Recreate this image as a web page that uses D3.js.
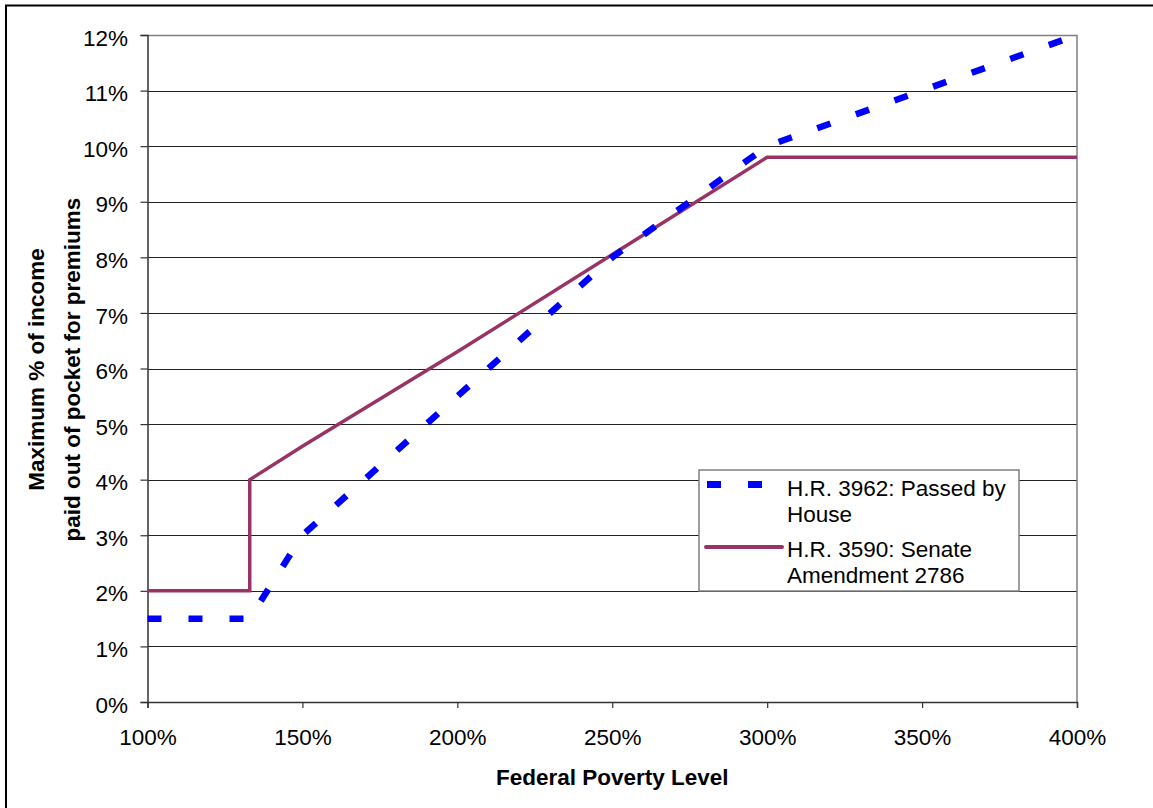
<!DOCTYPE html>
<html>
<head>
<meta charset="utf-8">
<script src="https://cdn.jsdelivr.net/npm/d3@7"></script>
<style>
  body { margin: 0; background: #fff; }
  svg { display: block; font-family: Arial, "Liberation Sans", sans-serif; }
</style>
</head>
<body>
<div id="chart"></div>
<script>
const width = 1153, height = 808;

// Federal poverty level (%), max % of income
const houseFpl = [100, 133, 150, 200, 250, 300, 350, 400];
const houseVal = [1.5, 1.5, 3, 5.5, 8, 10, 11, 12];
const senateFpl = [100, 133, 133, 150, 200, 250, 300, 400];
const senateVal = [2, 2, 4, 4.6, 6.3, 8.05, 9.8, 9.8];

const xTicks = [100, 150, 200, 250, 300, 350, 400];
const yTicks = [0, 1, 2, 3, 4, 5, 6, 7, 8, 9, 10, 11, 12];

const seriesNames = ['H.R. 3962: Passed by House', 'H.R. 3590: Senate Amendment 2786'];
const seriesLines = [['H.R. 3962: Passed by', 'House'], ['H.R. 3590: Senate', 'Amendment 2786']];

const plot = {left: 147.5, right: 1077, top: 35, bottom: 702};
const fontSize = 22.5;

const svg = d3.select('#chart')
    .append('svg')
    .attr('width', width)
    .attr('height', height);

// outer frame (only top and left edges show)
svg.append('path')
    .attr('d', `M6,${height + 5}V5.5H${width + 5}`)
    .attr('fill', 'none')
    .attr('stroke', '#000')
    .attr('stroke-width', 2);

const x = d3.scaleLinear().domain([100, 400]).range([plot.left, plot.right]);
const y = d3.scaleLinear().domain([0, 12]).range([plot.bottom, plot.top]);

// gridlines
svg.append('g')
    .selectAll('line')
    .data(yTicks.filter(d => d > 0 && d < 12))
    .enter().append('line')
    .attr('x1', plot.left).attr('x2', plot.right)
    .attr('y1', d => Math.round(y(d)) + 0.5).attr('y2', d => Math.round(y(d)) + 0.5)
    .attr('stroke', '#222')
    .attr('stroke-width', 1);

// plot border top/right
svg.append('path')
    .attr('d', `M${plot.left},${plot.top + 0.5}H${plot.right}V${plot.bottom}`)
    .attr('fill', 'none')
    .attr('stroke', '#808080')
    .attr('stroke-width', 1.5);

// axes
const xAxis = svg.append('g')
    .attr('transform', `translate(0,${plot.bottom})`)
    .call(d3.axisBottom(x).tickValues(xTicks).tickSize(6).tickPadding(21).tickFormat(d => d + '%'));
const yAxis = svg.append('g')
    .attr('transform', `translate(${plot.left},0)`)
    .call(d3.axisLeft(y).tickValues(yTicks).tickSize(7).tickPadding(12.5).tickFormat(d => d + '%'));

[xAxis, yAxis].forEach(g => {
    g.select('.domain').attr('stroke', '#333').attr('stroke-width', 1.5);
    g.selectAll('.tick line').attr('stroke', '#333').attr('stroke-width', 1.2);
    g.selectAll('.tick text')
        .attr('font-size', fontSize)
        .attr('font-family', 'Arial, "Liberation Sans", sans-serif')
        .attr('fill', '#000');
});
yAxis.selectAll('.tick text').attr('dy', '0.45em');

// axis titles
svg.append('text')
    .attr('x', x(250))
    .attr('y', 785)
    .attr('text-anchor', 'middle')
    .attr('font-size', fontSize)
    .attr('font-weight', 'bold')
    .text('Federal Poverty Level');

const yTitle = svg.append('text')
    .attr('transform', `translate(0,${(plot.top + plot.bottom) / 2 + 1}) rotate(-90)`)
    .attr('text-anchor', 'middle')
    .attr('font-size', fontSize)
    .attr('font-weight', 'bold');
yTitle.append('tspan').attr('x', 0).attr('y', 43.5).text('Maximum % of income');
yTitle.append('tspan').attr('x', 0).attr('y', 79.5).text('paid out of pocket for premiums');

// series
const line = d3.line().x(d => x(d[0])).y(d => y(d[1]));

svg.append('path')
    .datum(senateFpl.map((f, i) => [f, senateVal[i]]))
    .attr('d', line)
    .attr('fill', 'none')
    .attr('stroke', '#993366')
    .attr('stroke-width', 3.5);

svg.append('path')
    .datum(houseFpl.map((f, i) => [f, houseVal[i]]))
    .attr('d', line)
    .attr('fill', 'none')
    .attr('stroke', '#0000ff')
    .attr('stroke-width', 6.5)
    .attr('stroke-dasharray', '14,27');

// legend
const legend = svg.append('g').attr('transform', 'translate(699,470)');
legend.append('rect')
    .attr('width', 320).attr('height', 121)
    .attr('fill', '#fff')
    .attr('stroke', '#808080')
    .attr('stroke-width', 1.5);

legend.append('line')
    .attr('x1', 8).attr('x2', 78).attr('y1', 14.5).attr('y2', 14.5)
    .attr('stroke', '#0000ff').attr('stroke-width', 7)
    .attr('stroke-dasharray', '14,27');
legend.append('line')
    .attr('x1', 7).attr('x2', 83).attr('y1', 77).attr('y2', 77)
    .attr('stroke', '#993366').attr('stroke-width', 4)
    .attr('stroke-linecap', 'round');

seriesLines.forEach((lines, i) => {
    const t = legend.append('text')
        .attr('font-size', fontSize)
        .attr('fill', '#000')
        .attr('aria-label', seriesNames[i]);
    lines.forEach((s, j) => {
        t.append('tspan')
            .attr('x', 88)
            .attr('y', 26 + i * 60.5 + j * 26)
            .text(s);
    });
});
</script>
</body>
</html>
